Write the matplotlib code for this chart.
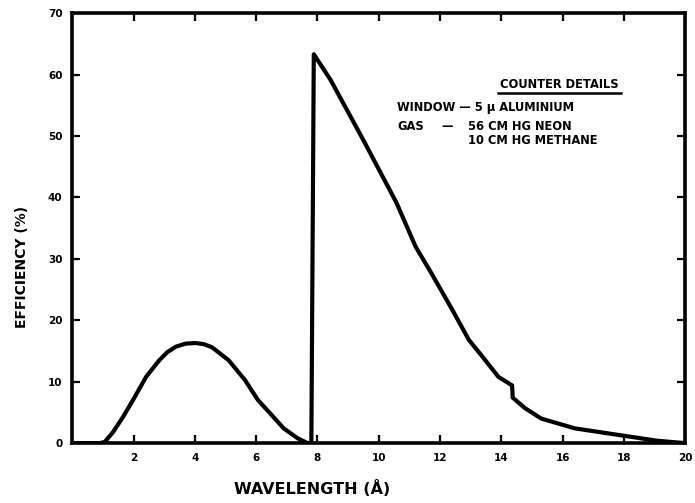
import matplotlib
matplotlib.use("Agg")
import matplotlib.pyplot as plt

# Data
wavelength = [0.0, 0.9, 1.06, 1.33, 1.66, 1.98, 2.41, 2.84, 3.1, 3.38, 3.7, 4.02, 4.3, 4.56,
              5.1, 5.63, 6.06, 6.5, 6.9, 7.35, 7.68, 7.80, 7.88, 8.43, 9.5, 10.58, 11.2,
              11.7, 12.4, 12.94, 13.38, 13.9, 14.35, 14.37, 14.77, 15.3, 16.4, 18.0,
              19.07, 20.0]
efficiency = [0.0, 0.0, 0.2, 1.8, 4.3, 7.0, 10.8, 13.5, 14.8, 15.7, 16.2, 16.3, 16.1, 15.6,
              13.5, 10.3, 7.0, 4.6, 2.4, 0.8, 0.0, 0.0, 63.3, 59.1, 49.3, 39.1, 32.0,
              27.8, 21.7, 16.8, 14.1, 10.8, 9.4, 7.4, 5.7, 4.0, 2.4, 1.2,
              0.4, 0.0]

x_ticks = [2, 4, 6, 8, 10, 12, 14, 16, 18, 20]
x_ticklabels = ["2", "4", "6", "8", "10", "12", "14", "16", "18", "20"]
y_ticks = [0, 10, 20, 30, 40, 50, 60, 70]
y_ticklabels = ["0", "10", "20", "30", "40", "50", "60", "70"]

fig = plt.figure(figsize=(6.95, 5.03), dpi=100)
ax = fig.add_axes([0.104, 0.119, 0.882, 0.855])

ax.plot(wavelength, efficiency, color="black", lw=3.0, solid_joinstyle="round",
        solid_capstyle="round")

ax.set_xlim(0, 20)
ax.set_ylim(0, 70)
ax.set_xticks(x_ticks)
ax.set_xticklabels(x_ticklabels)
ax.set_yticks(y_ticks)
ax.set_yticklabels(y_ticklabels)
for s in ax.spines.values():
    s.set_linewidth(2.6)
ax.tick_params(direction="in", length=6, width=1.6, top=True, right=True,
               labelsize=7.5, pad=7)
for lab in ax.get_xticklabels() + ax.get_yticklabels():
    lab.set_fontweight("bold")

fig.text(0.449, 0.028, "WAVELENGTH (Å)", ha="center", va="center",
         fontsize=11.5, fontweight="bold")
fig.text(0.032, 0.47, "EFFICIENCY (%)", ha="center", va="center",
         rotation=90, fontsize=10, fontweight="bold")

tkw = dict(fontsize=8.3, fontweight="bold", va="center")
ax.text(15.9, 58.4, "COUNTER DETAILS", ha="center", **tkw)
ax.plot([13.9, 17.9], [57.0, 57.0], color="black", lw=1.8)
ax.text(10.6, 54.7, "WINDOW — 5 μ ALUMINIUM", ha="left", **tkw)
ax.text(10.6, 51.5, "GAS", ha="left", **tkw)
ax.text(12.05, 51.5, "—", ha="left", **tkw)
ax.text(12.9, 51.5, "56 CM HG NEON", ha="left", **tkw)
ax.text(12.9, 49.2, "10 CM HG METHANE", ha="left", **tkw)

fig.savefig("out.png", dpi=100)
